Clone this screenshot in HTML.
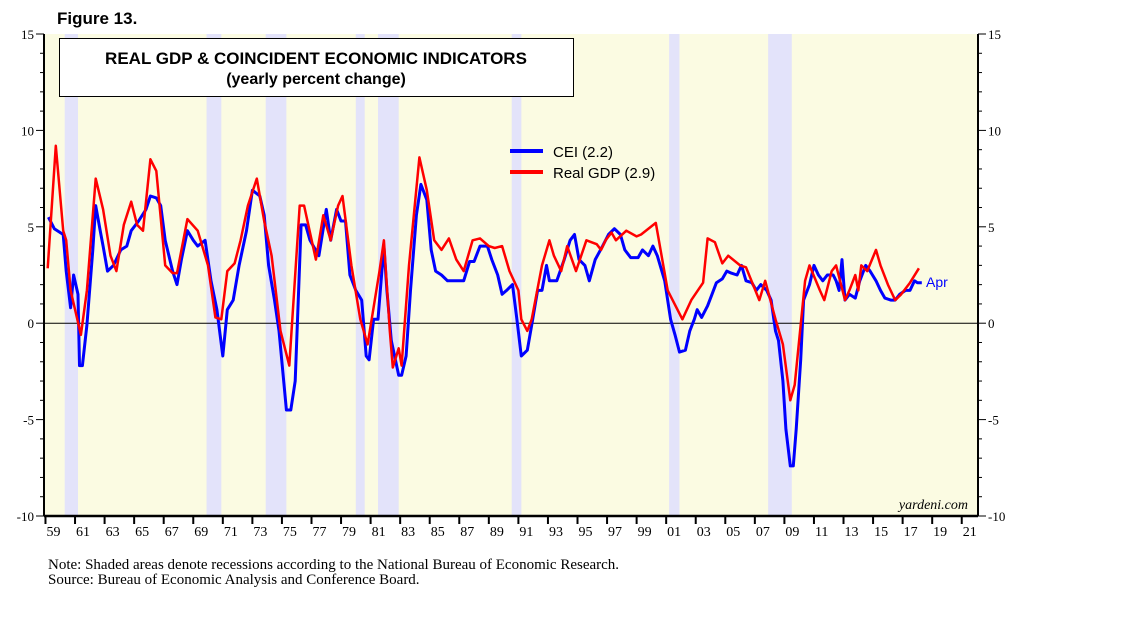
<!DOCTYPE html>
<html><head><meta charset="utf-8"><style>
body{margin:0;background:#fff;width:1138px;height:621px;overflow:hidden;font-family:"Liberation Sans",sans-serif}
</style></head><body>
<svg id="c" width="1138" height="621" xmlns="http://www.w3.org/2000/svg">
<text x="57" y="24" font-family="Liberation Sans" font-weight="bold" font-size="17">Figure 13.</text>
<g id="g"></g>
</svg>
<script>
const recStart=[1960.3,1969.9,1973.9,1980.0,1981.5,1990.55,2001.2,2007.9];
const recEnd=[1961.2,1970.9,1975.3,1980.6,1982.9,1991.2,2001.9,2009.5];
const gdpYears=[1959.15,1959.7,1960.2,1960.4,1960.7,1961.4,1961.8,1962.4,1962.9,1963.4,1963.8,1964.3,1964.8,1965.2,1965.6,1966.1,1966.5,1967.1,1967.6,1967.9,1968.6,1969.3,1970,1970.5,1970.9,1971.3,1971.8,1972.2,1972.7,1973.3,1973.8,1974.3,1974.9,1975.5,1976.2,1976.5,1977.3,1977.8,1978.3,1978.8,1979.1,1979.7,1980.3,1980.8,1981.6,1981.9,1982.3,1982.5,1982.9,1983.1,1983.6,1984.3,1984.8,1985.3,1985.8,1986.3,1986.8,1987.3,1987.9,1988.4,1989,1989.4,1989.9,1990.4,1991,1991.2,1991.6,1991.9,1992.6,1993.1,1993.4,1993.9,1994.3,1994.9,1995.6,1996.3,1996.6,1996.9,1997.3,1997.6,1998.3,1999,1999.3,2000.3,2001.1,2002.1,2002.7,2003.5,2003.8,2004.3,2004.8,2005.2,2006.0,2006.4,2007.3,2007.7,2008.4,2008.9,2009.4,2009.7,2010.4,2010.7,2011.4,2011.7,2012.2,2012.5,2013.1,2013.4,2013.8,2014,2014.2,2014.6,2015.2,2015.5,2016,2016.5,2016.9,2017.5,2018.1];
const gdpValues=[2.85,9.2,4.8,4.3,1.7,-0.6,1.7,7.5,5.9,3.5,2.7,5.1,6.3,5.1,4.8,8.5,7.9,3.0,2.6,2.6,5.4,4.8,3.0,0.3,0.2,2.7,3.1,4.3,6.1,7.5,5.3,3.5,-0.4,-2.2,6.1,6.1,3.3,5.6,4.3,6.1,6.6,3.0,0.2,-1.1,2.7,4.3,-0.4,-2.3,-1.3,-2.2,3.0,8.6,6.9,4.3,3.8,4.4,3.3,2.7,4.3,4.4,4.0,3.9,4.0,2.7,1.7,0.2,-0.4,0.2,3.0,4.3,3.5,2.7,4.0,2.7,4.3,4.1,3.8,4.3,4.7,4.3,4.8,4.5,4.6,5.2,1.7,0.2,1.2,2.1,4.4,4.2,3.1,3.5,3.0,2.9,1.2,2.2,0.2,-1.1,-4.0,-3.2,2.2,3.0,1.7,1.2,2.7,3.0,1.2,1.7,2.5,1.7,3.0,2.7,3.8,3.0,2.0,1.2,1.5,2.1,2.85];
const ceiYears=[1959.2,1959.6,1960.2,1960.4,1960.7,1960.9,1961.2,1961.3,1961.5,1961.8,1962.2,1962.4,1962.7,1962.9,1963.2,1963.6,1964.1,1964.5,1964.8,1965.3,1965.8,1966.1,1966.5,1966.8,1967.1,1967.6,1967.9,1968.2,1968.6,1969,1969.3,1969.8,1970.2,1970.6,1971,1971.3,1971.7,1972.1,1972.6,1973,1973.5,1973.8,1974.1,1974.5,1974.8,1975.3,1975.6,1975.9,1976.3,1976.6,1976.9,1977.5,1978,1978.3,1978.7,1979,1979.3,1979.6,1980.0,1980.4,1980.7,1980.9,1981.2,1981.5,1981.9,1982.1,1982.4,1982.9,1983.1,1983.4,1983.7,1984.1,1984.4,1984.8,1985.1,1985.4,1985.8,1986.2,1986.8,1987.3,1987.7,1988,1988.4,1988.9,1989.2,1989.6,1989.9,1990.2,1990.6,1990.9,1991.1,1991.2,1991.6,1991.9,1992.3,1992.6,1992.9,1993.1,1993.6,1994.1,1994.5,1994.8,1995.1,1995.5,1995.8,1996.2,1996.7,1997.1,1997.5,1997.9,1998.2,1998.6,1999.1,1999.4,1999.8,2000.1,2000.4,2000.9,2001.3,2001.6,2001.9,2002.3,2002.6,2002.9,2003.1,2003.4,2003.8,2004.1,2004.4,2004.8,2005.1,2005.4,2005.8,2006.1,2006.4,2006.8,2007.1,2007.4,2007.8,2008.1,2008.4,2008.6,2008.9,2009.1,2009.4,2009.6,2009.8,2010.1,2010.3,2010.7,2011,2011.3,2011.6,2011.9,2012.3,2012.5,2012.7,2012.9,2013.1,2013.4,2013.8,2014.1,2014.5,2014.8,2015.2,2015.5,2015.8,2016.2,2016.5,2016.8,2017.2,2017.5,2017.8,2018.0,2018.3];
const ceiValues=[5.5,4.9,4.6,2.7,0.8,2.5,1.5,-2.2,-2.2,-0.1,3.8,6.1,4.8,4.0,2.7,3.0,3.8,4.0,4.8,5.3,5.9,6.6,6.5,6.1,4.3,2.7,2.0,3.3,4.8,4.3,4.0,4.3,2.2,0.7,-1.7,0.7,1.2,3.0,4.8,6.9,6.6,5.6,3.0,1.2,-0.4,-4.5,-4.5,-3.0,5.1,5.1,4.3,3.5,5.9,4.3,5.9,5.3,5.3,2.5,1.7,1.2,-1.7,-1.9,0.2,0.2,4.0,1.7,-0.9,-2.7,-2.7,-1.7,1.7,5.6,7.2,6.4,3.8,2.7,2.5,2.2,2.2,2.2,3.2,3.2,4.0,4.0,3.3,2.5,1.5,1.7,2.0,0.2,-1.1,-1.7,-1.4,-0.1,1.7,1.7,3.0,2.2,2.2,3.3,4.3,4.6,3.3,3.0,2.2,3.3,4.0,4.6,4.9,4.6,3.8,3.4,3.4,3.8,3.5,4.0,3.5,2.2,0.2,-0.6,-1.5,-1.4,-0.4,0.2,0.7,0.3,0.9,1.5,2.1,2.3,2.7,2.6,2.5,3.0,2.2,2.1,1.7,2.0,1.7,1.2,-0.4,-0.9,-3.0,-5.5,-7.4,-7.4,-5.5,-1.9,1.2,2.0,3.0,2.5,2.2,2.5,2.5,2.2,1.7,3.3,1.2,1.5,1.3,2.2,3.0,2.7,2.2,1.7,1.3,1.2,1.2,1.5,1.7,1.7,2.2,2.1,2.1];
const yTicks=[-10,-5,0,5,10,15];
const xLabels=["59","61","63","65","67","69","71","73","75","77","79","81","83","85","87","89","91","93","95","97","99","01","03","05","07","09","11","13","15","17","19","21"];

const L=44,R=978,T=34,B=516,Y0=1958.9,Y1=2022.1,VMIN=-10,VMAX=15;
const sx=y=>L+(y-Y0)/(Y1-Y0)*(R-L);
const sy=v=>T+(VMAX-v)/(VMAX-VMIN)*(B-T);
const NS="http://www.w3.org/2000/svg";
const g=document.getElementById('g');
function el(t,a,txt){const e=document.createElementNS(NS,t);for(const k in a)e.setAttribute(k,a[k]);if(txt!=null)e.textContent=txt;g.appendChild(e);return e;}

let e=el('rect',{x:L,y:T,width:R-L,height:B-T,fill:'#fbfbe2'});


for(let i=0;i<recStart.length;i++){
  e=el('rect',{x:sx(recStart[i]),y:T,width:sx(recEnd[i])-sx(recStart[i]),height:B-T,fill:'#e3e3fa'});
  
  
}
e=el('line',{x1:L,x2:R,y1:sy(0),y2:sy(0),stroke:'#000','stroke-width':1});


e=el('line',{x1:L,x2:L,y1:T,y2:B,stroke:'#000','stroke-width':2});


e=el('line',{x1:R,x2:R,y1:T,y2:B,stroke:'#000','stroke-width':2});


e=el('line',{x1:L,x2:R,y1:B,y2:B,stroke:'#000','stroke-width':2.5});


for(let v=VMIN;v<=VMAX;v++){
  const big=v%5===0;
  el('line',{x1:L-(big?8:4),x2:L,y1:sy(v),y2:sy(v),stroke:'#000','stroke-width':1});
  el('line',{x1:R,x2:R+(big?8:4),y1:sy(v),y2:sy(v),stroke:'#000','stroke-width':1});
}
yTicks.forEach(v=>{
  e=el('text',{x:34,y:sy(v)+5,'text-anchor':'end','font-size':13,'font-family':'Liberation Serif'},String(v));
  
  
  e=el('text',{x:988,y:sy(v)+5,'text-anchor':'start','font-size':13,'font-family':'Liberation Serif'},String(v));
  
  
});
xLabels.forEach((s,i)=>{
  const tx=sx(1959+2*i);
  el('line',{x1:tx,x2:tx,y1:B,y2:B+8,stroke:'#000','stroke-width':2});
  e=el('text',{x:tx+1,y:536,'text-anchor':'start','font-size':14,'font-family':'Liberation Serif'},s);
  
  
});
function path(xs,vs){return xs.map((x,i)=>(i?'L':'M')+sx(x).toFixed(1)+','+sy(vs[i]).toFixed(1)).join('');}
e=el('path',{d:path(ceiYears,ceiValues),fill:'none',stroke:'#0000ff','stroke-width':3,'stroke-linejoin':'round'});


e=el('path',{d:path(gdpYears,gdpValues),fill:'none',stroke:'#ff0000','stroke-width':2.5,'stroke-linejoin':'round'});


e=el('text',{x:926,y:287,'font-size':14,fill:'#0000ff'},'Apr');


e=el('rect',{x:59.5,y:38.5,width:514,height:58,fill:'#fff',stroke:'#000','stroke-width':1});


e=el('text',{x:316,y:64,'text-anchor':'middle','font-size':17,'font-weight':'bold'},'REAL GDP & COINCIDENT ECONOMIC INDICATORS');


e=el('text',{x:316,y:84,'text-anchor':'middle','font-size':16,'font-weight':'bold'},'(yearly percent change)');


e=el('line',{x1:510,x2:543,y1:151,y2:151,stroke:'#0000ff','stroke-width':4});


e=el('text',{x:553,y:157,'font-size':15},'CEI (2.2)');


e=el('line',{x1:510,x2:543,y1:172,y2:172,stroke:'#ff0000','stroke-width':4});


e=el('text',{x:553,y:178,'font-size':15},'Real GDP (2.9)');


e=el('text',{x:968,y:509,'text-anchor':'end','font-size':14,'font-style':'italic','font-family':'Liberation Serif'},'yardeni.com');


e=el('text',{x:48,y:569,'font-size':15,'font-family':'Liberation Serif'},'Note: Shaded areas denote recessions according to the National Bureau of Economic Research.');


e=el('text',{x:48,y:584,'font-size':15,'font-family':'Liberation Serif'},'Source: Bureau of Economic Analysis and Conference Board.');


</script>
</body></html>
